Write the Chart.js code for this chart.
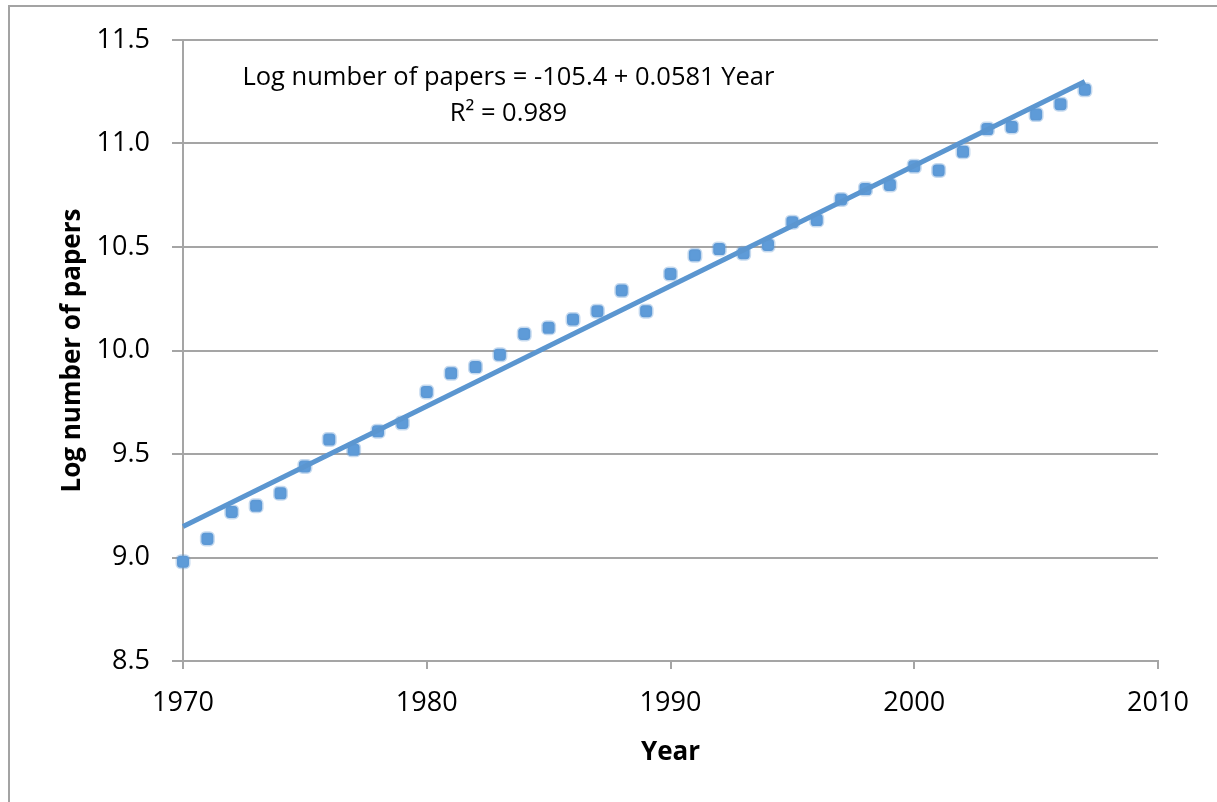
<!DOCTYPE html>
<html>
<head>
<meta charset="utf-8">
<script src="https://cdn.jsdelivr.net/npm/chart.js@4/dist/chart.umd.min.js"></script>
<style>
  html, body { margin: 0; padding: 0; background: #fff; }
  #wrap { position: relative; width: 1217px; height: 802px; overflow: hidden; }
  #frame { position: absolute; left: 8px; top: 5px; width: 1300px; height: 900px; border: 2px solid #a3a3a3; box-sizing: border-box; }
  #chart { position: absolute; left: 0; top: 0; }
</style>
</head>
<body>
<div id="wrap">
  <div id="frame"></div>
  <canvas id="chart" width="1217" height="802"></canvas>
</div>
<script>
// Data
const years = [1970, 1971, 1972, 1973, 1974, 1975, 1976, 1977, 1978, 1979,
  1980, 1981, 1982, 1983, 1984, 1985, 1986, 1987, 1988, 1989,
  1990, 1991, 1992, 1993, 1994, 1995, 1996, 1997, 1998, 1999,
  2000, 2001, 2002, 2003, 2004, 2005, 2006, 2007];
const logPapers = [8.98, 9.09, 9.22, 9.25, 9.31, 9.44, 9.57, 9.52, 9.61, 9.65,
  9.80, 9.89, 9.92, 9.98, 10.08, 10.11, 10.15, 10.19, 10.29, 10.19,
  10.37, 10.46, 10.49, 10.47, 10.51, 10.62, 10.63, 10.73, 10.78, 10.80,
  10.89, 10.87, 10.96, 11.07, 11.08, 11.14, 11.19, 11.26];

// Fitted trend line endpoints
const trendYears = [1970, 2007];
const trendValues = [9.15, 11.30];

// Equation label
const equationLines = ["Log number of papers = -105.4 + 0.0581 Year", "R\u00B2 = 0.989"];
const equationX = 1983.35;
const equationY = [11.32, 11.145];

const gridGray = "#a5a5a5";
const blue = "#5b96d0";

Chart.defaults.font.family = "'Open Sans', sans-serif";
Chart.defaults.color = "#000";

// Draw the regression equation text
const equationPlugin = {
  id: "equation",
  afterDatasetsDraw(chart) {
    const { ctx, scales } = chart;
    ctx.save();
    ctx.font = "25.5px 'Open Sans', sans-serif";
    ctx.fillStyle = "#000";
    ctx.textAlign = "center";
    ctx.textBaseline = "middle";
    equationLines.forEach((line, i) => {
      ctx.fillText(line, scales.x.getPixelForValue(equationX), scales.y.getPixelForValue(equationY[i]));
    });
    ctx.restore();
  },
};

const ctx = document.getElementById("chart");

new Chart(ctx, {
  type: "scatter",
  data: {
    datasets: [
      {
        label: "Trend",
        type: "line",
        data: trendYears.map((x, i) => ({ x: x, y: trendValues[i] })),
        borderColor: blue,
        borderWidth: 5,
        pointRadius: 0,
        fill: false,
        clip: false,
      },
      {
        label: "Log number of papers",
        data: years.map((x, i) => ({ x: x, y: logPapers[i] })),
        pointStyle: "rectRounded",
        pointRadius: 7,
        backgroundColor: "#5e9bd8",
        borderColor: "rgba(91,150,208,0.35)",
        borderWidth: 3,
        clip: false,
      },
    ],
  },
  options: {
    responsive: false,
    animation: false,
    events: [],
    layout: {
      padding: { left: 57, top: 40, right: 59, bottom: 0 },
    },
    plugins: {
      legend: { display: false },
      tooltip: { enabled: false },
    },
    scales: {
      x: {
        type: "linear",
        min: 1970,
        max: 2010,
        afterFit: (scale) => { scale.height = 141; },
        ticks: {
          stepSize: 10,
          padding: 18,
          font: { size: 27 },
          callback: (v) => String(v),
        },
        grid: {
          drawOnChartArea: false,
          drawTicks: true,
          tickLength: 8,
          color: gridGray,
          lineWidth: 2,
        },
        border: { display: true, color: gridGray, width: 2 },
        title: {
          display: true,
          text: "Year",
          font: { size: 26, weight: "bold" },
          padding: { top: 0, bottom: 34 },
        },
      },
      y: {
        min: 8.5,
        max: 11.5,
        afterFit: (scale) => { scale.width = 126; },
        ticks: {
          stepSize: 0.5,
          padding: 22,
          font: { size: 27 },
          callback: (v) => Number(v).toFixed(1),
        },
        grid: {
          drawTicks: true,
          tickLength: 11,
          color: gridGray,
          lineWidth: 2,
        },
        border: { display: true, color: gridGray, width: 2 },
        title: {
          display: true,
          text: "Log number of papers",
          font: { size: 26, weight: "bold" },
          padding: 0,
        },
      },
    },
  },
  plugins: [equationPlugin],
});
</script>
</body>
</html>
